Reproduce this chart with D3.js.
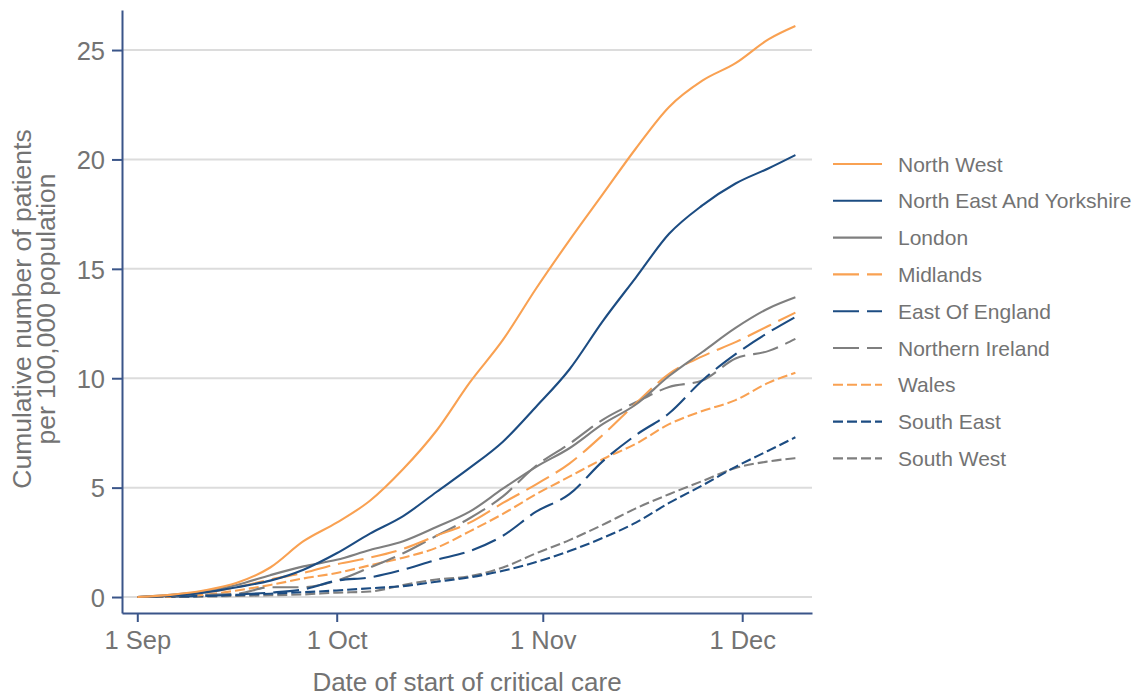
<!DOCTYPE html>
<html><head><meta charset="utf-8">
<script src="https://cdn.jsdelivr.net/npm/d3@7"></script>
<style>
body{margin:0;background:#fff}
text{font-family:"Liberation Sans",Arial,Helvetica,sans-serif}
</style>
</head><body>
<svg id="chart" width="1136" height="696"></svg>
<script>
// ---- data ----
const dates = ["2020-09-01","2020-09-06","2020-09-11","2020-09-16","2020-09-21","2020-09-26",
  "2020-10-01","2020-10-06","2020-10-11","2020-10-16","2020-10-21","2020-10-26","2020-10-31",
  "2020-11-05","2020-11-10","2020-11-15","2020-11-20","2020-11-25","2020-11-30","2020-12-05","2020-12-09"];
const seriesNames = ["North West","North East And Yorkshire","London","Midlands","East Of England",
  "Northern Ireland","Wales","South East","South West"];
const northWest       = [0,0.1,0.3,0.65,1.35,2.55,3.4,4.4,5.85,7.6,9.8,11.75,14.1,16.3,18.4,20.5,22.4,23.6,24.4,25.5,26.1];
const northEast       = [0,0.05,0.2,0.45,0.75,1.25,2.0,2.9,3.7,4.8,5.9,7.1,8.7,10.4,12.6,14.6,16.6,17.9,18.9,19.6,20.2];
const london          = [0,0.1,0.25,0.55,1.0,1.4,1.7,2.15,2.55,3.2,3.9,4.95,5.95,6.8,7.9,8.8,10.1,11.2,12.3,13.2,13.7];
const midlands        = [0,0.05,0.2,0.45,0.8,1.1,1.5,1.8,2.2,2.8,3.4,4.3,5.15,6.1,7.4,8.85,10.2,11.0,11.65,12.4,13.0];
const eastOfEngland   = [0,0.02,0.05,0.12,0.2,0.35,0.75,0.9,1.25,1.7,2.1,2.8,3.9,4.7,6.2,7.4,8.4,9.9,11.1,12.1,12.8];
const northernIreland = [0,0.05,0.1,0.15,0.45,0.45,0.75,1.35,2.0,2.8,3.6,4.6,6.0,7.0,8.1,8.9,9.6,9.9,10.9,11.25,11.8];
const wales           = [0,0.02,0.1,0.3,0.55,0.85,1.1,1.45,1.8,2.25,3.0,3.8,4.7,5.5,6.3,7.0,7.9,8.5,9.0,9.8,10.25];
const southEast       = [0,0.02,0.05,0.1,0.15,0.22,0.3,0.4,0.5,0.7,0.9,1.2,1.6,2.1,2.7,3.4,4.3,5.1,5.95,6.7,7.3];
const southWest       = [0,0,0.02,0.05,0.08,0.12,0.2,0.25,0.55,0.8,0.95,1.35,2.0,2.6,3.3,4.05,4.7,5.3,5.9,6.2,6.35];
const seriesValues = [northWest,northEast,london,midlands,eastOfEngland,northernIreland,wales,southEast,southWest];
const xTickLabels = ["1 Sep","1 Oct","1 Nov","1 Dec"];
const xTickDates = ["2020-09-01","2020-10-01","2020-11-01","2020-12-01"];
const yTicks = [0,5,10,15,20,25];

// ---- styles ----
const ORANGE="#F9A152", NAVY="#1C4C82", GREY="#7F7F7F", TEXT="#737373", AXIS="#3A5589", GRID="#DCDCDC";
const colors = [ORANGE,NAVY,GREY,ORANGE,NAVY,GREY,ORANGE,NAVY,GREY];
const dashes = [null,null,null,"26,8","26,8","26,8","10,4","10,4","10,4"];

const parse = d3.utcParse("%Y-%m-%d");
const svg = d3.select("#chart");
const DAY = 86400000;
const d0 = parse("2020-09-01");
const x = d3.scaleUtc()
  .domain([new Date(+d0 - 2.3*DAY), new Date(+d0 + 101.5*DAY)])
  .range([122, 812]);
const y = d3.scaleLinear().domain([-0.73, 26.83]).range([613, 10]);

// grid
svg.append("g").selectAll("line").data(yTicks).join("line")
  .attr("x1",122).attr("x2",812)
  .attr("y1",d=>y(d)).attr("y2",d=>y(d))
  .attr("stroke",GRID).attr("stroke-width",2);

// axes
const yAxis = d3.axisLeft(y).tickValues(yTicks).tickSize(10).tickPadding(7).tickSizeOuter(0);
const gy = svg.append("g").attr("transform","translate(122,0)").call(yAxis);
const xAxis = d3.axisBottom(x).tickValues(xTickDates.map(parse))
  .tickFormat((d,i)=>xTickLabels[i]).tickSize(9).tickPadding(6).tickSizeOuter(0);
const gx = svg.append("g").attr("transform","translate(0,613)").call(xAxis);
[gx,gy].forEach(g=>{
  g.select(".domain").attr("stroke",AXIS).attr("stroke-width",2);
  g.selectAll(".tick line").attr("stroke",AXIS).attr("stroke-width",2);
  g.selectAll(".tick text").attr("fill",TEXT).style("font-size","25.5px")
   .style("font-family",'"Liberation Sans",Arial,sans-serif');
});
gy.selectAll(".tick text").attr("dy","0.36em");
gx.selectAll(".tick text").attr("dy","0.82em");

// lines
const line = d3.line().curve(d3.curveMonotoneX).x((d,i)=>x(parse(dates[i]))).y(d=>y(d));
const order = [8,7,6,5,4,3,2,1,0];
svg.append("g").selectAll("path").data(order).join("path")
  .attr("d",k=>line(seriesValues[k]))
  .attr("fill","none")
  .attr("stroke",k=>colors[k])
  .attr("stroke-width",2.1)
  .attr("stroke-linejoin","round")
  .attr("stroke-dasharray",k=>dashes[k]);

// axis titles
svg.append("text").attr("x",467).attr("y",691).attr("text-anchor","middle")
  .attr("fill",TEXT).style("font-size","26px").text("Date of start of critical care");
const yt = svg.append("text").attr("transform","translate(0,309) rotate(-90)")
  .attr("text-anchor","middle").attr("fill",TEXT).style("font-size","26.5px");
yt.append("tspan").attr("x",0).attr("y",31).text("Cumulative number of patients");
yt.append("tspan").attr("x",0).attr("y",55).text("per 100,000 population");

// legend
const lg = svg.append("g");
const rows = lg.selectAll("g").data(seriesNames).join("g")
  .attr("transform",(d,i)=>`translate(833,${164 + i*36.8})`);
rows.append("line").attr("x1",0).attr("x2",49).attr("y1",0).attr("y2",0)
  .attr("stroke",(d,i)=>colors[i]).attr("stroke-width",2.1)
  .attr("stroke-dasharray",(d,i)=>dashes[i]);
rows.append("text").attr("x",65).attr("y",0).attr("dy","0.36em")
  .attr("fill",TEXT).style("font-size","21px").text(d=>d);
</script>
</body></html>
